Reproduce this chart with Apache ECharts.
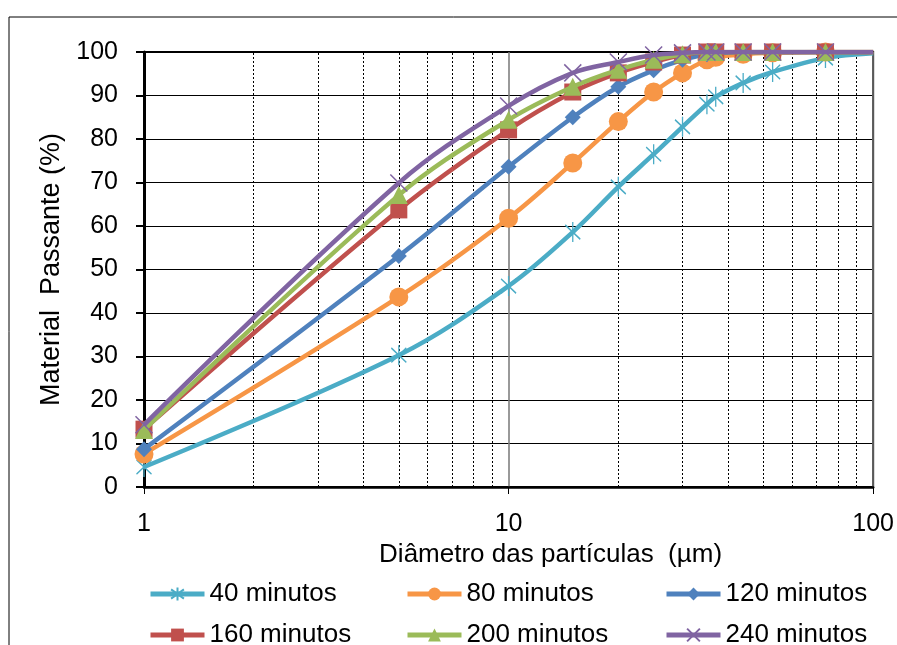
<!DOCTYPE html>
<html><head><meta charset="utf-8">
<script src="https://cdn.jsdelivr.net/npm/echarts@6/dist/echarts.min.js"></script>
<style>html,body{margin:0;padding:0;background:#fff}#c{width:897px;height:645px}</style>
</head><body><div id="c"></div>
<script>
const diam = [1, 5, 10, 15, 20, 25, 30, 35, 37, 44, 53, 74];
const s40  = [4.6, 30.3, 46.2, 58.6, 69.0, 76.5, 82.8, 88.0, 89.7, 92.9, 95.4, 98.6];
const s80  = [7.6, 43.7, 61.8, 74.5, 84.0, 90.8, 95.2, 98.2, 98.8, 99.5, 99.8, 100];
const s120 = [8.7, 53.1, 73.6, 85.0, 92.0, 95.8, 98.2, 99.5, 99.7, 100, 100, 100];
const s160 = [13.3, 63.7, 82.1, 90.8, 95.2, 97.7, 99.3, 100, 100, 100, 100, 100];
const s200 = [13.1, 67.1, 84.4, 92.0, 95.9, 98.2, 99.5, 100, 100, 100, 100, 100];
const s240 = [14.3, 69.9, 87.6, 95.2, 97.7, 99.3, 99.8, 100, 100, 100, 100, 100];
const endX = 100;
const endVals = [99.7, 100, 100, 100, 100, 100];
const names = ['40 minutos','80 minutos','120 minutos','160 minutos','200 minutos','240 minutos'];
const colors = ['#4BACC6','#F79646','#4F81BD','#C0504D','#9BBB59','#8064A2'];
const minorTicks = [2,3,4,5,6,7,8,9,20,30,40,50,60,70,80,90];
const yTicks = {min:0, max:100, interval:10};

const sets = [s40, s80, s120, s160, s200, s240];
const symbols = [
  'path://M0,2L10,12M10,2L0,12M5,0L5,14',
  'circle', 'diamond', 'rect', 'triangle',
  'path://M0,0L10,10M10,0L0,10'
];
const sizes = [[15,20], 19, 16, 17, 18, [17,17]];
const F = 'Liberation Sans, Arial, sans-serif';

const series = sets.map((vals, i) => {
  const data = diam.map((d, j) => [d, vals[j]]);
  data.push({value: [endX, endVals[i]], symbol: 'none'});
  const isPath = symbols[i].startsWith('path');
  const s = {
    name: names[i], type: 'line', smooth: 0.35,
    data: data, symbol: symbols[i], symbolSize: sizes[i],
    symbolKeepAspect: false,
    color: colors[i],
    lineStyle: {width: 4.5, color: colors[i]},
    itemStyle: isPath ? {color: colors[i], borderColor: colors[i], borderWidth: 1.5} : {color: colors[i]},
    z: 3 + i, animation: false
  };
  if (i === 0) {
    s.markLine = {
      silent: true, symbol: 'none', animation: false,
      label: {show: false},
      lineStyle: {color: '#000', type: [2, 2], width: 1},
      data: minorTicks.map(v => ({xAxis: v})),
      z: 1
    };
  }
  return s;
});

const legendPos = [[143,576],[400,576],[659,576],[143,617],[400,617],[659,617]];
const legends = names.map((n, i) => ({
  data: [n], left: legendPos[i][0], top: legendPos[i][1],
  itemWidth: 54, itemHeight: 16, itemGap: 0,
  lineStyle: {width: 5},
  textStyle: {fontFamily: F, fontSize: 26, color: '#000'},
  selectedMode: false
}));

const chart = echarts.init(document.getElementById('c'));
chart.setOption({
  backgroundColor: '#fff',
  animation: false,
  textStyle: {fontFamily: F},
  graphic: [{type: 'rect', shape: {x: 9, y: 17, width: 950, height: 700},
    style: {fill: 'none', stroke: '#000', lineWidth: 1}, silent: true, z: -1}],
  grid: {left: 144, right: 22, top: 52, bottom: 158, show: true,
    borderColor: '#000', borderWidth: 2, backgroundColor: 'transparent'},
  legend: legends,
  xAxis: {
    type: 'log', logBase: 10, min: 1, max: 100,
    name: 'Diâmetro das partículas  (µm)', nameLocation: 'middle', nameGap: 45,
    nameTextStyle: {fontFamily: F, fontSize: 26, color: '#000', padding: [0, 0, 0, 84]},
    axisLine: {lineStyle: {color: '#000', width: 2.5}},
    axisTick: {show: true, length: 7, inside: false, lineStyle: {color: '#000', width: 1}},
    axisLabel: {fontFamily: F, fontSize: 25, color: '#000', margin: 25},
    splitLine: {show: true, lineStyle: {color: '#777', width: 1.5}},
    minorTick: {show: false}, minorSplitLine: {show: false}
  },
  yAxis: {
    type: 'value', min: yTicks.min, max: yTicks.max, interval: yTicks.interval,
    name: 'Material  Passante (%)', nameLocation: 'middle', nameGap: 71,
    nameTextStyle: {fontFamily: F, fontSize: 27, color: '#000'},
    axisLine: {show: true, lineStyle: {color: '#000', width: 3}},
    axisTick: {show: true, length: 8, lineStyle: {color: '#000', width: 2}},
    axisLabel: {fontFamily: F, fontSize: 25, color: '#000', margin: 26},
    splitLine: {show: true, lineStyle: {color: '#000', width: 1}}
  },
  series: series
});
</script></body></html>
